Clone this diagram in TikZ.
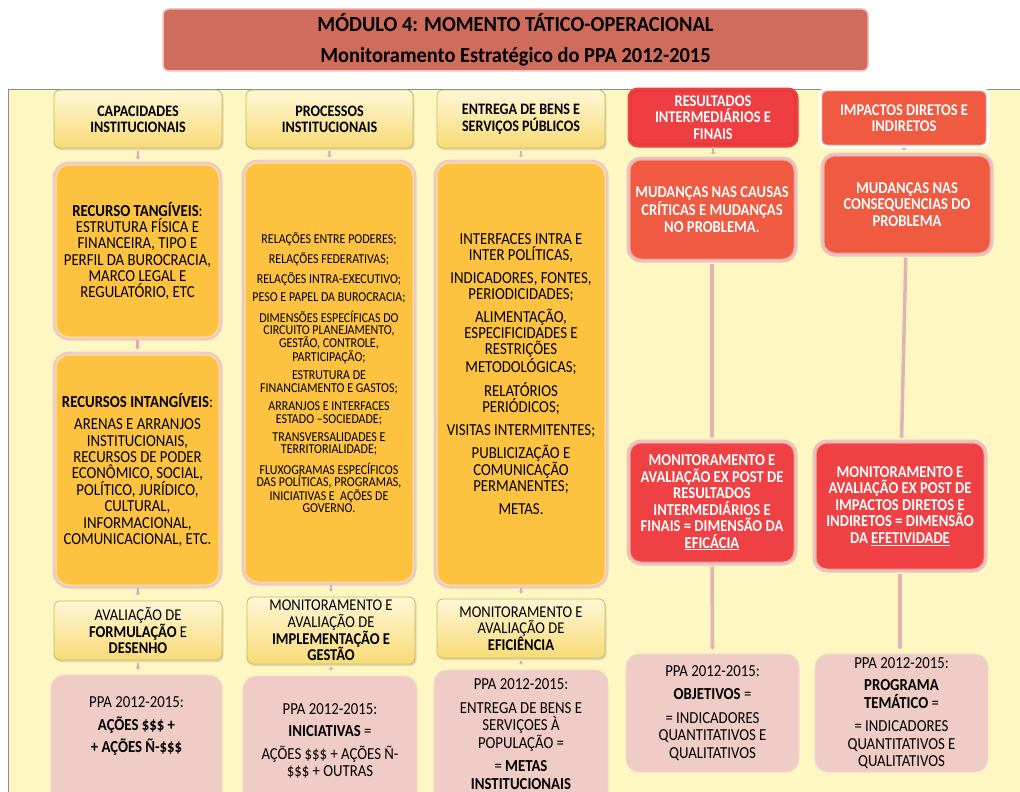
\documentclass[tikz,border=0pt]{standalone}
\usepackage{fontspec}
\setmainfont{Carlito}[FakeStretch=0.88]
\newfontfamily\titlefont{Carlito}[FakeStretch=0.95]
\usetikzlibrary{arrows.meta,shadows}
\definecolor{panelfill}{HTML}{FEF7C2}
\definecolor{panelline}{HTML}{8C8C8C}
\definecolor{titlefill}{HTML}{CF6C5B}
\definecolor{titleline}{HTML}{F0C3B8}
\definecolor{hdrtop}{HTML}{FEF7D6}
\definecolor{hdrbot}{HTML}{F8DB76}
\definecolor{hdrline}{HTML}{C9BA5E}
\definecolor{ofill}{HTML}{FDC23F}
\definecolor{oinner}{HTML}{FDE2A6}
\definecolor{ohalo}{HTML}{EBCBC3}
\definecolor{rfillA}{HTML}{F05A41}
\definecolor{rfillB}{HTML}{EF4144}
\definecolor{rinner}{HTML}{F8A293}
\definecolor{rhalo}{HTML}{E8C3BF}
\definecolor{hredfill}{HTML}{EF3E42}
\definecolor{hredline}{HTML}{DC2F36}
\definecolor{pfill}{HTML}{EFCCC6}
\definecolor{pinner}{HTML}{F3D6D0}
\definecolor{sconn}{HTML}{E6A5B6}
\definecolor{lconn}{HTML}{E2B3B5}
\newcommand\myfs[2]{\fontsize{#1}{#2}\selectfont}
\begin{document}
\begin{tikzpicture}[x=1pt,y=-1pt,
  titlebox/.style={fill=titlefill, draw=titleline, line width=1.5pt, rounded corners=6pt,
    align=center, font=\titlefont\bfseries\myfs{21.5}{24}, inner sep=0pt},
  hdr/.style={draw=hdrline, line width=0.8pt, rounded corners=6pt, top color=hdrtop,
    bottom color=hdrbot, drop shadow={opacity=0.25,shadow xshift=1.5pt,shadow yshift=-2pt},
    align=center, inner sep=0pt, font=\myfs{16.5}{16.7}},
  tophdr/.style={hdr, font=\bfseries\myfs{16}{16.3}},
  obox/.style={rounded corners=13pt, fill=ofill, draw=oinner, line width=1pt,
    preaction={draw=ohalo, line width=7pt}, align=center, inner sep=0pt},
  rbox/.style={rounded corners=11pt, draw=rinner, line width=1pt,
    preaction={draw=rhalo, line width=7pt}, align=center, inner sep=0pt,
    text=white, font=\bfseries\myfs{16.6}{16.5}},
  redhdr/.style={rounded corners=7pt, fill=hredfill, draw=hredline, line width=0.8pt,
    preaction={draw=hredfill, line width=7pt}, align=center, inner sep=0pt,
    text=white, font=\bfseries\myfs{16.4}{16.6}},
  orhdr/.style={rounded corners=5pt, fill=rfillA, draw=rinner, line width=0.8pt,
    preaction={draw=white, line width=7pt}, align=center, inner sep=0pt,
    text=white, font=\bfseries\myfs{16.4}{16.6}},
  pbox/.style={rounded corners=13pt, fill=pfill, draw=pinner, line width=0.8pt,
    align=center, inner sep=0pt, font=\myfs{16.8}{17.5}},
  ptext/.style={align=center, inner sep=0pt, font=\myfs{16.8}{17.5}},
  sarrow/.style={draw=sconn, line width=2.2pt, -{Triangle[length=2.5pt,width=4.5pt]},
    shorten <=2.5pt, shorten >=5pt},
  larrow/.style={draw=lconn, line width=3.5pt, -{Triangle[length=3pt,width=5.5pt]},
    shorten <=4pt, shorten >=4pt}
]
\useasboundingbox (0,0) rectangle (1020,792);
\clip (0,0) rectangle (1020,792);
\fill[white] (0,0) rectangle (1020,792);
% background panel
\draw[fill=panelfill, draw=panelline, line width=1pt] (8,89) rectangle (1030,800);

% title
\node[titlebox, minimum width=705pt, minimum height=62pt] (title) at (515.5,40)
  {MÓDULO 4: MOMENTO TÁTICO-OPERACIONAL\\[7pt]Monitoramento Estratégico do PPA 2012-2015};

% top headers
\node[tophdr, minimum width=168pt, minimum height=58pt] (h1) at (138,119) {CAPACIDADES\\INSTITUCIONAIS};
\node[tophdr, minimum width=167pt, minimum height=58pt] (h2) at (329.5,119) {PROCESSOS\\INSTITUCIONAIS};
\node[tophdr, minimum width=168pt, minimum height=58pt] (h3) at (521,119) {ENTREGA DE BENS E\\SERVIÇOS PÚBLICOS};
\node[redhdr, minimum width=164pt, minimum height=53pt] (h4) at (713,117.5) {RESULTADOS\\INTERMEDIÁRIOS E\\FINAIS};
\node[orhdr, minimum width=164pt, minimum height=54pt] (h5) at (904,118) {IMPACTOS DIRETOS E\\INDIRETOS};

% column 1
\node[obox, minimum width=163pt, minimum height=172pt, font=\myfs{16.8}{16.3}] (c1a) at (137.5,251)
  {\textbf{RECURSO TANGÍVEIS}:\\ESTRUTURA FÍSICA E\\FINANCEIRA, TIPO E\\PERFIL DA BUROCRACIA,\\MARCO LEGAL E\\REGULATÓRIO, ETC};
\node[obox, minimum width=163pt, minimum height=230pt, font=\myfs{16.8}{16.4}] (c1b) at (137.5,470)
  {\textbf{RECURSOS INTANGÍVEIS}:\\[6pt]ARENAS E ARRANJOS\\INSTITUCIONAIS,\\RECURSOS DE PODER\\ECONÔMICO, SOCIAL,\\POLÍTICO, JURÍDICO,\\CULTURAL,\\INFORMACIONAL,\\COMUNICACIONAL, ETC.};

% column 2
\node[obox, minimum width=168pt, minimum height=419pt, font=\myfs{13.6}{12.4}] (c2) at (329,372.5)
  {RELAÇÕES ENTRE PODERES;\\[6pt]RELAÇÕES FEDERATIVAS;\\[6pt]RELAÇÕES INTRA-EXECUTIVO;\\[6pt]PESO E PAPEL DA BUROCRACIA;\\[6pt]DIMENSÕES ESPECÍFICAS DO\\CIRCUITO PLANEJAMENTO,\\GESTÃO, CONTROLE,\\PARTICIPAÇÃO;\\[6pt]ESTRUTURA DE\\FINANCIAMENTO E GASTOS;\\[6pt]ARRANJOS E INTERFACES\\ESTADO –SOCIEDADE;\\[6pt]TRANSVERSALIDADES E\\TERRITORIALIDADE;\\[6pt]FLUXOGRAMAS ESPECÍFICOS\\DAS POLÍTICAS, PROGRAMAS,\\INICIATIVAS E\ \ AÇÕES DE\\GOVERNO.};

% column 3
\node[obox, minimum width=168pt, minimum height=422pt, font=\myfs{16.8}{16}] (c3) at (521,374)
  {INTERFACES INTRA E\\INTER POLÍTICAS,\\[7pt]INDICADORES, FONTES,\\PERIODICIDADES;\\[7pt]ALIMENTAÇÃO,\\ESPECIFICIDADES E\\RESTRIÇÕES\\METODOLÓGICAS;\\[7pt]RELATÓRIOS\\PERIÓDICOS;\\[7pt]VISITAS INTERMITENTES;\\[7pt]PUBLICIZAÇÃO E\\COMUNICAÇÃO\\PERMANENTES;\\[7pt]METAS.};

% columns 4 and 5
\node[rbox, fill=rfillA, minimum width=164pt, minimum height=99pt] (c4a) at (712,209.5)
  {MUDANÇAS NAS CAUSAS\\CRÍTICAS E MUDANÇAS\\NO PROBLEMA.};
\node[rbox, fill=rfillA, minimum width=166pt, minimum height=97pt] (c5a) at (907,204.5)
  {MUDANÇAS NAS\\CONSEQUENCIAS DO\\PROBLEMA};
\node[rbox, fill=rfillB, minimum width=164pt, minimum height=119pt] (c4b) at (712,502.5)
  {MONITORAMENTO E\\AVALIAÇÃO EX POST DE\\RESULTADOS\\INTERMEDIÁRIOS E\\FINAIS = DIMENSÃO DA\\\underline{EFICÁCIA}};
\node[rbox, fill=rfillB, minimum width=168pt, minimum height=126pt] (c5b) at (900,506)
  {MONITORAMENTO E\\AVALIAÇÃO EX POST DE\\IMPACTOS DIRETOS E\\INDIRETOS = DIMENSÃO\\DA \underline{EFETIVIDADE}};

% bottom headers
\node[hdr, minimum width=168pt, minimum height=59pt] (b1) at (138,630.5)
  {AVALIAÇÃO DE\\\textbf{FORMULAÇÃO} E\\\textbf{DESENHO}};
\node[hdr, minimum width=168pt, minimum height=67pt] (b2) at (331,630.5)
  {MONITORAMENTO E\\AVALIAÇÃO DE\\\textbf{IMPLEMENTAÇÃO E}\\\textbf{GESTÃO}};
\node[hdr, minimum width=168pt, minimum height=59pt] (b3) at (521,628.5)
  {MONITORAMENTO E\\AVALIAÇÃO DE\\\textbf{EFICIÊNCIA}};

% bottom pink boxes
\node[pbox, minimum width=171pt, minimum height=140pt] (p1) at (136.5,745) {};
\node[ptext] (p1t) at (136.5,726) {PPA 2012-2015:\\[5pt]\textbf{AÇÕES \$\$\$ +}\\[5pt]\textbf{+ AÇÕES Ñ-\$\$\$}};
\node[pbox, minimum width=174pt, minimum height=140pt] (p2) at (330,746) {};
\node[ptext] (p2t) at (330,741) {PPA 2012-2015:\\[5pt]\textbf{INICIATIVAS} =\\[5pt]AÇÕES \$\$\$ + AÇÕES Ñ-\\\$\$\$ + OUTRAS};
\node[pbox, minimum width=174pt, minimum height=150pt] (p3) at (521,745) {};
\node[ptext] (p3t) at (521,734) {PPA 2012-2015:\\[6pt]ENTREGA DE BENS E\\SERVIÇOES À\\POPULAÇÃO =\\[6pt]= \textbf{METAS}\\\textbf{INSTITUCIONAIS}};
\node[pbox, minimum width=173pt, minimum height=118pt] (p4) at (712.5,713)
  {PPA 2012-2015:\\[6pt]\textbf{OBJETIVOS} =\\[6pt]= INDICADORES\\QUANTITATIVOS E\\QUALITATIVOS};
\node[pbox, minimum width=173pt, minimum height=118pt] (p5) at (901.5,713)
  {PPA 2012-2015:\\[5pt]\textbf{PROGRAMA}\\\textbf{TEMÁTICO} =\\[6pt]= INDICADORES\\QUANTITATIVOS E\\QUALITATIVOS};

% connectors
\draw[sarrow] (h1) -- (c1a);
\draw[sarrow] (c1a) -- (c1b);
\draw[sarrow] (c1b) -- (b1);
\draw[sarrow] (b1) -- (b1 |- p1.north);
\draw[sarrow] (h2) -- (c2);
\draw[sarrow] (c2.south -| b2) -- (b2);
\draw[sarrow] (b2) -- (b2 |- p2.north);
\draw[sarrow] (h3) -- (c3);
\draw[sarrow] (c3) -- (b3);
\draw[sarrow] (b3) -- (p3);
\draw[sarrow] (h4) -- (h4 |- c4a.north);
\draw[sarrow] (h5) -- (h5 |- c5a.north);
\draw[larrow] (c4a) -- (c4b);
\draw[larrow] (c4b) -- (p4);
\draw[larrow] (c5a) -- (c5b);
\draw[larrow] (c5b) -- (c5b |- p5.north);
\end{tikzpicture}
\end{document}
